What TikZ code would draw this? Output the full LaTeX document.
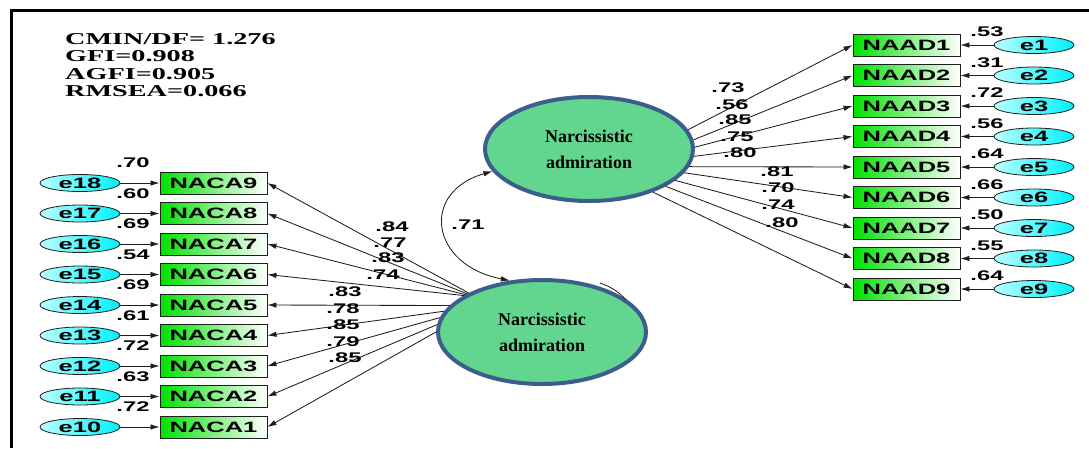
\documentclass[tikz,border=0pt]{standalone}
\usepackage{fontspec}
\setmainfont{Liberation Serif}
\newfontfamily\arialf{Liberation Sans}
\usetikzlibrary{arrows.meta,shapes.geometric}
\newcommand{\SX}[1]{\scalebox{1.7}[1]{#1}}
\definecolor{latborder}{RGB}{59,94,140}
\definecolor{latfill}{RGB}{98,214,142}
\definecolor{boxgreen}{RGB}{0,225,0}
\definecolor{cyanlight}{RGB}{185,255,255}
\definecolor{cyandark}{RGB}{0,240,250}
\definecolor{linegray}{RGB}{30,30,30}
\tikzset{
  obs/.style={rectangle, draw=linegray, line width=0.9pt, minimum width=107pt, minimum height=22pt,
    inner sep=0pt, left color=boxgreen, right color=white, font=\arialf\bfseries\fontsize{15}{15}\selectfont},
  err/.style={ellipse, draw=linegray, line width=0.8pt, minimum width=80pt, minimum height=17pt,
    inner sep=0pt, text height=10pt, text depth=0pt, left color=cyanlight, right color=cyandark,
    font=\arialf\bfseries\fontsize{15}{15}\selectfont},
  lat/.style={ellipse, draw=latborder, line width=4pt, fill=latfill, minimum width=208pt,
    minimum height=104pt, inner sep=0pt, align=center, font=\bfseries\fontsize{18}{26}\selectfont},
  num/.style={inner sep=0pt, font=\arialf\bfseries\fontsize{14}{14}\selectfont},
  stat/.style={inner sep=0pt, anchor=base west, font=\bfseries\fontsize{16.6}{17}\selectfont},
  arr/.style={-{Latex[length=9pt,width=5.5pt]}, line width=0.85pt, draw=linegray},
  corr/.style={{Latex[length=9pt,width=5.5pt]}-{Latex[length=9pt,width=5.5pt]}, line width=0.85pt, draw=linegray}
}
\begin{document}
\begin{tikzpicture}[x=1pt,y=-1pt]
\useasboundingbox (0,0) rectangle (1089,448);
% frame
\draw[line width=3pt] (1089,10) -- (11,10) -- (11,448);
% fit statistics
\node[stat] (s1) at (65,44) {\SX{CMIN/DF= 1.276}};
\node[stat] (s2) at (65,61) {\SX{GFI=0.908}};
\node[stat] (s3) at (65,79) {\SX{AGFI=0.905}};
\node[stat] (s4) at (65,96) {\SX{RMSEA=0.066}};
% latent variables
\node[lat] (top) at (589,149) {Narcissistic\\admiration};
\node[lat] (bot) at (542,332) {Narcissistic\\admiration};
% left indicators
\foreach \n/\e/\r/\ang [count=\k from 0] in {9/18/.70/152,8/17/.60/153,7/16/.69/154,6/15/.54/155,5/14/.69/164,4/13/.61/168,3/12/.72/172,2/11/.63/176,1/10/.72/180}{
  \pgfmathsetmacro{\yy}{183+30.5*\k}
  \node[obs] (naca\n) at (213.5,\yy) {\SX{NACA\n}};
  \node[err] (e\e) at (80,\yy) {\SX{e\e}};
  \draw[arr] (e\e) -- (naca\n);
  \node[num] (r\e) at (133,\yy-20) {\SX{\r}};
  \draw[arr] (bot.\ang) -- (naca\n.east);
}
% left loadings
\node[num] (l9) at (392,227) {\SX{.84}};
\node[num] (l8) at (390,243) {\SX{.77}};
\node[num] (l7) at (388,258) {\SX{.83}};
\node[num] (l6) at (383,275) {\SX{.74}};
\node[num] (l5) at (345,292) {\SX{.83}};
\node[num] (l4) at (343,309) {\SX{.78}};
\node[num] (l3) at (343,325) {\SX{.85}};
\node[num] (l2) at (343,342) {\SX{.79}};
\node[num] (l1) at (345,358) {\SX{.85}};
% right indicators
\foreach \n/\r/\ang [count=\k from 0] in {1/.53/11,2/.31/5,3/.72/1,4/.56/-4.5,5/.64/-10,6/.66/-14,7/.50/-20,8/.55/-26,9/.64/-34}{
  \pgfmathsetmacro{\yy}{45+30.5*\k}
  \node[obs] (naad\n) at (906.5,\yy) {\SX{NAAD\n}};
  \node[err] (e\n) at (1034,\yy) {\SX{e\n}};
  \draw[arr] (e\n) -- (naad\n);
  \node[num] (r\n) at (987,\yy-13) {\SX{\r}};
  \draw[arr] (top.\ang) -- (naad\n.west);
}
% right loadings
\node[num] (m1) at (728,88) {\SX{.73}};
\node[num] (m2) at (732,105) {\SX{.56}};
\node[num] (m3) at (735,120) {\SX{.85}};
\node[num] (m4) at (737,137) {\SX{.75}};
\node[num] (m5) at (740,153) {\SX{.80}};
\node[num] (m6) at (777,172) {\SX{.81}};
\node[num] (m7) at (778,188) {\SX{.70}};
\node[num] (m8) at (778,205) {\SX{.74}};
\node[num] (m9) at (782,223) {\SX{.80}};
% correlation
\draw[corr] (bot.122) .. controls (430,265) and (420,192) .. (top.193);
\node[num] (c) at (468,225) {\SX{.71}};
% small arc trace beside the lower ellipse
\coordinate (arcA) at (600,283);
\coordinate (arcB) at (626,300);
\draw[line width=0.8pt, draw=linegray] (arcA) .. controls (612,287) and (620,293) .. (arcB);
\end{tikzpicture}
\end{document}
